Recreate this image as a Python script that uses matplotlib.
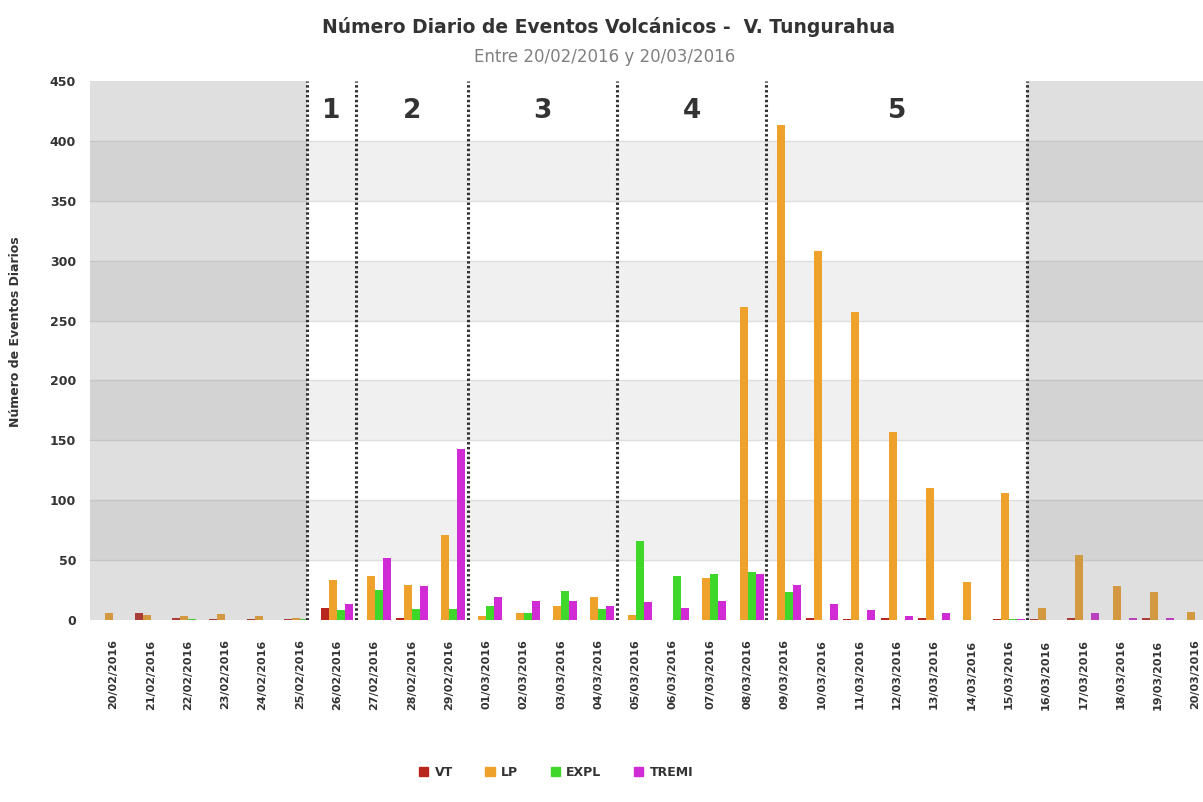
import matplotlib
matplotlib.use("Agg")
import matplotlib.pyplot as plt
import numpy as np
from matplotlib.patches import Patch

plt.rcParams['font.family'] = ['DejaVu Sans']

dates = ["20/02/2016", "21/02/2016", "22/02/2016", "23/02/2016", "24/02/2016",
         "25/02/2016", "26/02/2016", "27/02/2016", "28/02/2016", "29/02/2016",
         "01/03/2016", "02/03/2016", "03/03/2016", "04/03/2016", "05/03/2016",
         "06/03/2016", "07/03/2016", "08/03/2016", "09/03/2016", "10/03/2016",
         "11/03/2016", "12/03/2016", "13/03/2016", "14/03/2016", "15/03/2016",
         "16/03/2016", "17/03/2016", "18/03/2016", "19/03/2016", "20/03/2016"]

vt    = [0, 6, 2, 1, 1, 1, 10, 0, 2, 0, 0, 0, 0, 0, 0, 0, 0, 0, 0, 2, 1, 2, 2, 0, 1, 1, 2, 0, 2, 0]
lp    = [6, 4, 3, 5, 3, 2, 33, 37, 29, 71, 3, 6, 12, 19, 4, 0, 35, 261, 413, 308, 257, 157, 110, 32, 106, 10, 54, 28, 23, 7]
expl  = [0, 0, 1, 0, 0, 1, 8, 25, 9, 9, 12, 6, 24, 9, 66, 37, 38, 40, 23, 0, 0, 0, 0, 0, 1, 0, 0, 0, 0, 0]
tremi = [0, 0, 0, 0, 0, 0, 13, 52, 28, 143, 19, 16, 16, 12, 15, 10, 16, 38, 29, 13, 8, 3, 6, 0, 1, 0, 6, 2, 2, 0]

series_names = ["VT", "LP", "EXPL", "TREMI"]
series_colors = ["#b8261e", "#eea22c", "#3fd82a", "#d02bd4"]

phase_lines = [5.2, 6.5, 9.5, 13.5, 17.5, 24.5]
phase_labels = ["1", "2", "3", "4", "5"]

W, H = 1203, 802
fig = plt.figure(figsize=(W / 100, H / 100), dpi=100)
ax = fig.add_axes([90 / W, 1 - 620 / H, (W - 90) / W, (620 - 81) / H])

xmin, xmax = -0.627, 29.21
ax.set_xlim(xmin, xmax)
ax.set_ylim(0, 450)

# alternating bands
for k in range(9):
    ax.axhspan(k * 50, (k + 1) * 50, color="#ffffff" if k % 2 == 0 else "#f0f0f0", zorder=0, lw=0)
for k in range(1, 9):
    ax.axhline(k * 50, color="#dedede", lw=1, zorder=0.5)

x = np.arange(len(dates))
bw = 0.2145
data = [vt, lp, expl, tremi]
for j, (vals, col) in enumerate(zip(data, series_colors)):
    ax.bar(x + (j - 1.5) * bw, vals, width=bw, color=col, zorder=2, lw=0)

# gray overlay regions
ax.axvspan(xmin, phase_lines[0], color="#808080", alpha=0.25, zorder=3, lw=0)
ax.axvspan(phase_lines[-1], xmax + 1, color="#808080", alpha=0.25, zorder=3, lw=0)

for xv in phase_lines:
    ax.axvline(xv, color="#333333", lw=2.2, ls=(0, (0.8, 0.8)), zorder=4)

for i, lab in enumerate(phase_labels):
    xc = (phase_lines[i] + phase_lines[i + 1]) / 2
    ax.text(xc, 425, lab, ha="center", va="center", fontsize=19, fontweight="bold",
            color="#333333", zorder=5)

for s in ax.spines.values():
    s.set_visible(False)

ax.set_yticks(np.arange(0, 451, 50))
ax.tick_params(axis="both", length=0)
ax.set_yticklabels([str(v) for v in range(0, 451, 50)], fontsize=9, fontweight="bold", color="#333333")
ax.tick_params(axis="y", pad=10)
ax.set_xticks(x)
ax.set_xticklabels(dates, rotation=90, fontsize=8, fontweight="bold", color="#333333")
ax.tick_params(axis="x", pad=14)

ax.set_ylabel("Número de Eventos Diarios", fontsize=9, fontweight="bold", color="#333333")
ax.yaxis.set_label_coords(-0.061, 0.535)

fig.text(609 / W, 1 - 27 / H, "Número Diario de Eventos Volcánicos -  V. Tungurahua",
         ha="center", va="center", fontsize=13.5, fontweight="bold", color="#333333")
fig.text(605 / W, 1 - 57 / H, "Entre 20/02/2016 y 20/03/2016",
         ha="center", va="center", fontsize=12, color="#808080")

handles = [Patch(facecolor=c, edgecolor=c) for c in series_colors]
leg = fig.legend(handles, series_names, loc="center", bbox_to_anchor=(556 / W, 1 - 772 / H),
                 ncol=4, frameon=False, handlelength=0.75, handleheight=0.75,
                 handletextpad=0.5, columnspacing=2.6,
                 prop={"weight": "bold", "size": 9})
for t in leg.get_texts():
    t.set_color("#333333")

fig.savefig("out.png", dpi=100)
